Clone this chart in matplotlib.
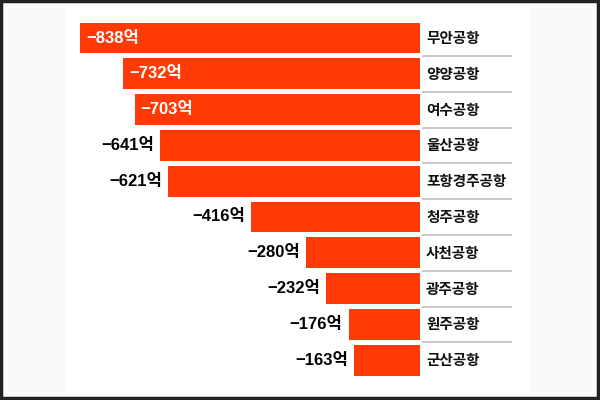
import matplotlib
matplotlib.use("Agg")
import matplotlib.pyplot as plt
from matplotlib.patches import Rectangle

airports = ["무안공항", "양양공항", "여수공항", "울산공항", "포항경주공항",
            "청주공항", "사천공항", "광주공항", "원주공항", "군산공항"]
values = [-838, -732, -703, -641, -621, -416, -280, -232, -176, -163]
unit = "억"
inside_count = 3

plt.rcParams['font.family'] = ['Liberation Sans', 'Noto Sans CJK KR', 'DejaVu Sans']

W, H = 600, 400
fig = plt.figure(figsize=(6, 4), dpi=100)
fig.patch.set_facecolor('#fcf9f9')
# white panel and outer border
fig.add_artist(Rectangle((65 / W, 1 - 392 / H), (530 - 65) / W, (392 - 7) / H,
                         transform=fig.transFigure, facecolor='white', edgecolor='none', zorder=0))
fig.add_artist(Rectangle((0.002, 0.004), 0.995, 0.993, transform=fig.transFigure,
                         facecolor='none', edgecolor='#222222', linewidth=2.5, zorder=5))

ax = fig.add_axes([0, 0, 1, 1])
ax.set_facecolor('none')
scale = 340 / 838.0  # px per unit
ax.set_xlim(-420 / scale, (W - 420) / scale)
pitch = 35.8
ax.set_ylim((H - 38) / pitch, -38 / pitch)
ax.axis('off')

n = len(values)
ys = list(range(n))
ax.barh(ys, values, height=0.86, color='#ff3a06', zorder=2)

px = 1 / scale
for i, (name, v) in enumerate(zip(airports, values)):
    label = f"−{abs(v)}{unit}"
    if i < inside_count:
        ax.text(v + 6 * px, i, label, ha='left', va='center', color='white',
                fontsize=12, fontweight='bold', zorder=3)
    else:
        ax.text(v - 6 * px, i, label, ha='right', va='center', color='black',
                fontsize=12, fontweight='bold', zorder=3)
    ax.text(6 * px, i, name, ha='left', va='center', color='#111111',
            fontsize=10.5, fontweight='bold', family=['Noto Sans CJK KR', 'DejaVu Sans'],
            zorder=3)
    if i < n - 1:
        ax.plot([2 * px, 92 * px], [i + 0.5, i + 0.5], color='#bdbdbd',
                linewidth=1.2, zorder=1, solid_capstyle='butt')

fig.savefig('out.png', dpi=100, facecolor=fig.get_facecolor())
